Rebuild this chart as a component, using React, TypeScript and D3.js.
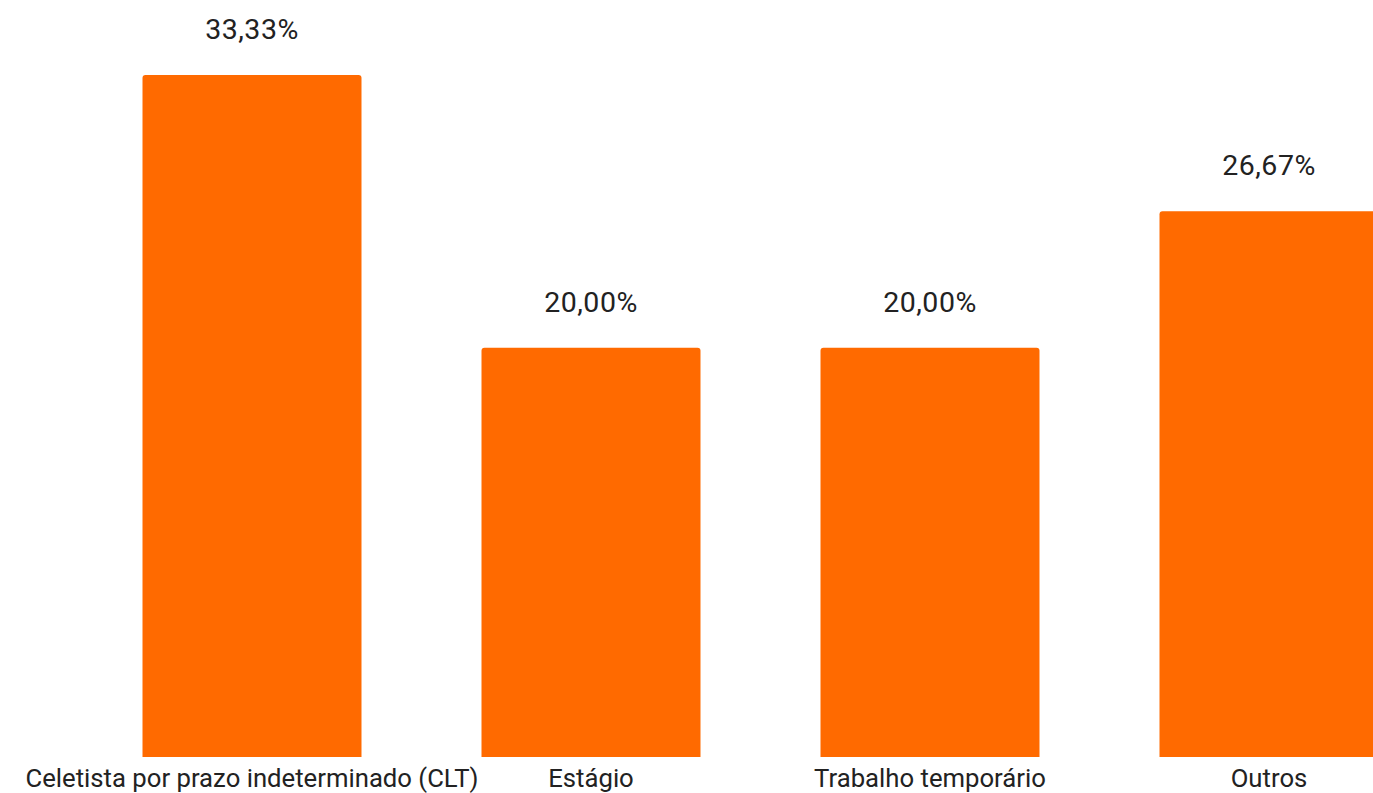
import React from "react";
import * as d3 from "d3";

const categories = [
  "Celetista por prazo indeterminado (CLT)",
  "Estágio",
  "Trabalho temporário",
  "Outros",
];
const values = [33.33, 20.0, 20.0, 26.67];
const valueLabels = ["33,33%", "20,00%", "20,00%", "26,67%"];

const W = 1373;
const H = 793;

export default function App() {
  const x = d3
    .scaleBand<string>()
    .domain(categories)
    .range([82.5, 82.5 + 1356])
    .paddingInner(0.354)
    .paddingOuter(0.177);
  const y = d3.scaleLinear().domain([0, 33.33]).range([757, 75]);
  const r = 3;
  const barPath = (x0: number, w: number, top: number, bottom: number) =>
    `M${x0},${bottom}V${top + r}Q${x0},${top} ${x0 + r},${top}H${x0 + w - r}Q${x0 + w},${top} ${x0 + w},${top + r}V${bottom}Z`;

  return (
    <svg
      width={W}
      height={H}
      style={{ position: "absolute", left: 0, top: 0, background: "#fff" }}
      fontFamily="Roboto, Arial, sans-serif"
    >
      {categories.map((c, i) => {
        const bx = x(c)!;
        const bw = x.bandwidth();
        const top = y(values[i]);
        const cx = bx + bw / 2;
        return (
          <g key={c}>
            <path d={barPath(bx, bw, top, y(0))} fill="#ff6a00" />
            <text
              x={cx}
              y={top - 36}
              textAnchor="middle"
              fontSize={28.5}
              letterSpacing={0.5}
              fill="#222"
            >
              {valueLabels[i]}
            </text>
            <text x={cx} y={787} textAnchor="middle" fontSize={25.7} fill="#222">
              {c}
            </text>
          </g>
        );
      })}
    </svg>
  );
}
